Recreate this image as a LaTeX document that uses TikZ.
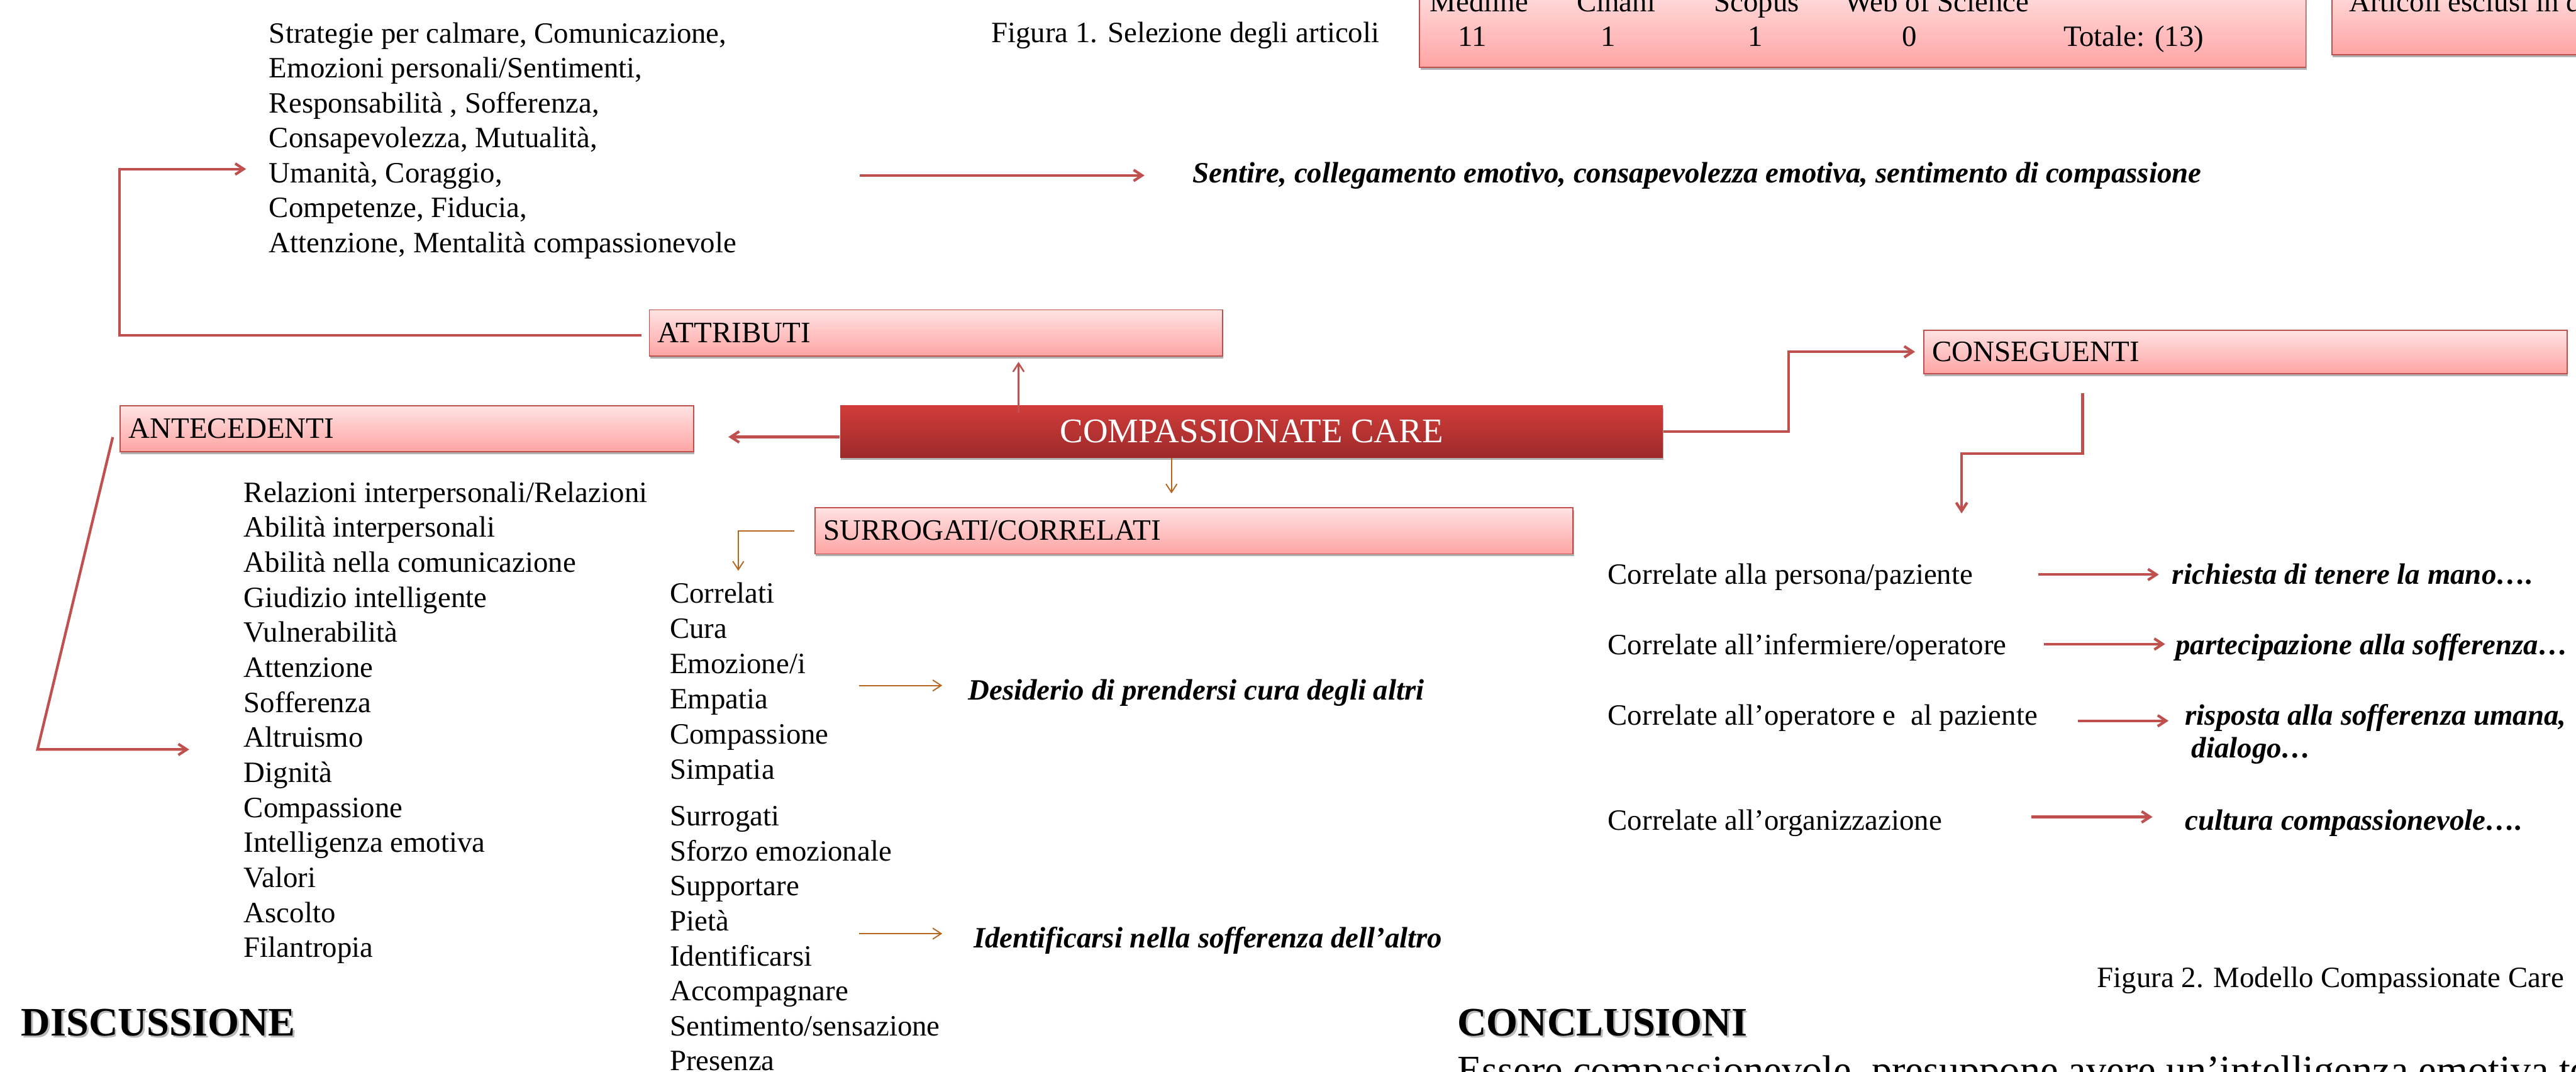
\documentclass[tikz,border=0pt]{standalone}
\usepackage{fontspec}
\setmainfont{Liberation Serif}
\usepackage{tikz}
\usetikzlibrary{arrows.meta,shadows}
\definecolor{boxred}{HTML}{C0504D}
\definecolor{pinktop}{HTML}{FFE3E3}
\definecolor{pinkbot}{HTML}{FFA4A4}
\definecolor{cctop}{HTML}{D03D3A}
\definecolor{ccbot}{HTML}{9D2A2A}
\definecolor{arrowbrown}{HTML}{B5651D}
\tikzset{>={Straight Barb[length=0.2cm,width=0.26cm]}}
\tikzset{my text/.style={inner sep=0pt, font=\fontsize{19.9}{23.6}\selectfont}}
\tikzset{my effect/.style={inner sep=0pt, font=\fontsize{19.9}{23.6}\selectfont\bfseries\itshape}}
\tikzset{my heading/.style={inner sep=0pt, anchor=base west, font=\fontsize{27.3}{32}\selectfont\bfseries}}
\tikzset{my box/.style={
  draw=boxred, line width=0.8pt,
  top color=pinktop, bottom color=pinkbot,
  inner xsep=0.2cm, inner ysep=0pt, align=left,
  font=\fontsize{20}{24}\selectfont,
  drop shadow={shadow xshift=0.02cm, shadow yshift=-0.06cm, opacity=0.3, fill=black}
  }
}
\tikzset{my red arrow/.style={boxred, line width=1.8pt, ->}}
\tikzset{my thin arrow/.style={boxred, line width=1.1pt, ->}}
\tikzset{my brown arrow/.style={arrowbrown, line width=0.8pt, ->}}

\begin{document}
\begin{tikzpicture}
    \useasboundingbox (0,0) rectangle (61.13,-25.43);
    \clip (0,0) rectangle (61.13,-25.43);

    % tabella articoli
    \node[my box, minimum width=21.03cm, minimum height=2.0cm] (tab) at (44.205,-0.60) {};
    \node[my box, minimum width=6.66cm, minimum height=1.70cm] (excl) at (58.67,-0.45) {};
    \node[my text, anchor=base west] (fig1) at (23.52,-1.00) {Figura 1. Selezione degli articoli};
    \foreach \i/\x [count=\n] in {Medline/33.93,Cinahl/37.41,Scopus/40.67,Web of Science/43.77}
        \node[my text, anchor=base west] (Db\n) at (\x,-0.27) {\i};
    \foreach \i/\x [count=\n] in {11/34.94,1/38.17,1/41.66,0/45.32}
        \node[my text, anchor=base] (Nr\n) at (\x,-1.10) {\i};
    \node[my text, anchor=base west] (tot) at (48.96,-1.10) {Totale: (13)};
    \node[my text, anchor=base west] (exclt) at (55.74,-0.27) {Articoli esclusi in d};

    % categorie
    \node[my box, text width=13.20cm, minimum height=1.10cm] (attr) at (22.21,-7.90) {ATTRIBUTI};
    \node[my box, text width=13.21cm, minimum height=1.10cm] (ante) at (9.655,-10.17) {ANTECEDENTI};
    \node[my box, text width=17.59cm, minimum height=1.10cm] (surr) at (28.335,-12.59) {SURROGATI/CORRELATI};
    \node[my box, text width=14.87cm, minimum height=1.03cm] (cons) at (53.285,-8.345) {CONSEGUENTI};
    \node[my box, draw=none, top color=cctop, bottom color=ccbot, align=center, text=white,
          minimum width=19.52cm, minimum height=1.23cm, font=\fontsize{23.3}{28}\selectfont] (cc) at (29.70,-10.235) {COMPASSIONATE CARE};

    % attributi
    \foreach \i [count=\n] in {{Strategie per calmare, Comunicazione,},{Emozioni personali/Sentimenti,},{Responsabilità , Sofferenza,},{Consapevolezza, Mutualità,},{Umanità, Coraggio,},{Competenze, Fiducia,},{Attenzione, Mentalità compassionevole}}
        \node[my text, anchor=base west, yshift=-\n*0.828cm] (At\n) at (6.38,-0.192) {\i};
    \node[my effect, anchor=base west] (Sen) at (28.30,-4.33) {Sentire, collegamento emotivo, consapevolezza emotiva, sentimento di compassione};

    % antecedenti
    \foreach \i [count=\n] in {{Relazioni interpersonali/Relazioni},Abilità interpersonali,Abilità nella comunicazione,Giudizio intelligente,Vulnerabilità,Attenzione,Sofferenza,Altruismo,Dignità,Compassione,Intelligenza emotiva,Valori,Ascolto,Filantropia}
        \node[my text, anchor=base west, yshift=-\n*0.831cm] (An\n) at (5.78,-11.079) {\i};

    % surrogati / correlati
    \foreach \i [count=\n] in {Correlati,Cura,{Emozione/i},Empatia,Compassione,Simpatia}
        \node[my text, anchor=base west, yshift=-\n*0.834cm] (Co\n) at (15.89,-13.476) {\i};
    \foreach \i [count=\n] in {Surrogati,Sforzo emozionale,Supportare,Pietà,Identificarsi,Accompagnare,{Sentimento/sensazione},Presenza}
        \node[my text, anchor=base west, yshift=-\n*0.83cm] (Sg\n) at (15.89,-18.76) {\i};
    \node[my effect, anchor=base west] (Des) at (22.97,-16.60) {Desiderio di prendersi cura degli altri};
    \node[my effect, anchor=base west] (Idn) at (23.10,-22.48) {Identificarsi nella sofferenza dell’altro};

    % conseguenti
    \foreach \i/\y [count=\n] in {{Correlate alla persona/paziente}/13.86,{Correlate all’infermiere/operatore}/15.53,{Correlate all’operatore e\ \ al paziente}/17.20,{Correlate all’organizzazione}/19.69}
        \node[my text, anchor=base west] (Cp\n) at (38.15,-\y) {\i};
    \foreach \i/\x/\y [count=\n] in {{richiesta di tenere la mano….}/51.54/13.86,{partecipazione alla sofferenza…}/51.62/15.53,{risposta alla sofferenza umana,}/51.85/17.20,{cultura compassionevole….}/51.85/19.69}
        \node[my effect, anchor=base west] (Ef\n) at (\x,-\y) {\i};
    \node[my effect, anchor=base west] (Ef3b) at (52.00,-17.98) {dialogo…};

    \node[my text, anchor=base east] (fig2) at (60.85,-23.43) {Figura 2. Modello Compassionate Care};

    % titoli
    \node[my heading, text=black!45, opacity=0.6] (DisSh) at (0.54,-24.62) {DISCUSSIONE};
    \node[my heading] (Dis) at (0.50,-24.57) {DISCUSSIONE};
    \node[my heading, text=black!45, opacity=0.6] (ConSh) at (34.62,-24.62) {CONCLUSIONI};
    \node[my heading] (Con) at (34.58,-24.57) {CONCLUSIONI};
    \node[my heading, font=\fontsize{27.3}{32}\selectfont] (Ess) at (34.58,-25.70) {Essere compassionevole, presuppone avere un’intelligenza emotiva te};

    % connettori
    \coordinate (attrbend) at (2.83,-4.01);
    \coordinate (antebend) at (0.89,-17.78);
    \coordinate (surrtip) at (17.52,-13.54);
    \coordinate (constip) at (46.55,-12.18);
    \coordinate (up1) at ([xshift=1.96cm]attr.south);
    \coordinate (dn1) at ([xshift=-0.535cm]surr.north);

    \draw[my red arrow, shorten >=0.54cm] ([xshift=-0.17cm,yshift=-0.05cm]attr.west) -| (attrbend) -- (attrbend -| At5.west);
    \draw[my red arrow, shorten >=1.14cm] ([xshift=-7.90cm]Sen.west) -- (Sen.west);
    \draw[my red arrow, shorten >=0.81cm] ([yshift=-0.13cm]cc.west) coordinate (cw) -- (cw -| ante.east);
    \draw[my red arrow, shorten >=1.29cm] ([xshift=-0.16cm,yshift=-0.20cm]ante.west) -- (antebend) -- (antebend -| An8.west);
    \draw[my thin arrow, shorten <=-0.18cm, shorten >=0.12cm] (cc.north -| up1) -- (up1);
    \draw[my brown arrow, shorten >=0.32cm] (cc.south -| dn1) -- (dn1);
    \draw[my brown arrow] ([xshift=-0.48cm]surr.west) -| (surrtip);
    \draw[my brown arrow, shorten >=0.61cm] ([xshift=-2.59cm,yshift=0.17cm]Des.west) -- ([yshift=0.17cm]Des.west);
    \draw[my brown arrow, shorten >=0.74cm] ([xshift=-2.72cm,yshift=0.16cm]Idn.west) -- ([yshift=0.16cm]Idn.west);
    \draw[my red arrow, shorten >=0.19cm] (cc.east) -| ([xshift=-3.19cm]cons.west) -- (cons.west);
    \draw[my red arrow] ([xshift=-3.865cm,yshift=-0.46cm]cons.south) -- ++(0,-1.43) -| (constip);
    \foreach \n/\s/\e/\d in {1/1.54/0.31/0.15,2/0.89/0.24/0.17,3/0.95/0.39/0.02,4/2.11/0.77/0.23}
        \draw[my red arrow, shorten <=\s cm, shorten >=\e cm] ([yshift=\d cm]Cp\n.mid east) coordinate (s\n) -- (s\n -| Ef\n.west);

\end{tikzpicture}
\end{document}
